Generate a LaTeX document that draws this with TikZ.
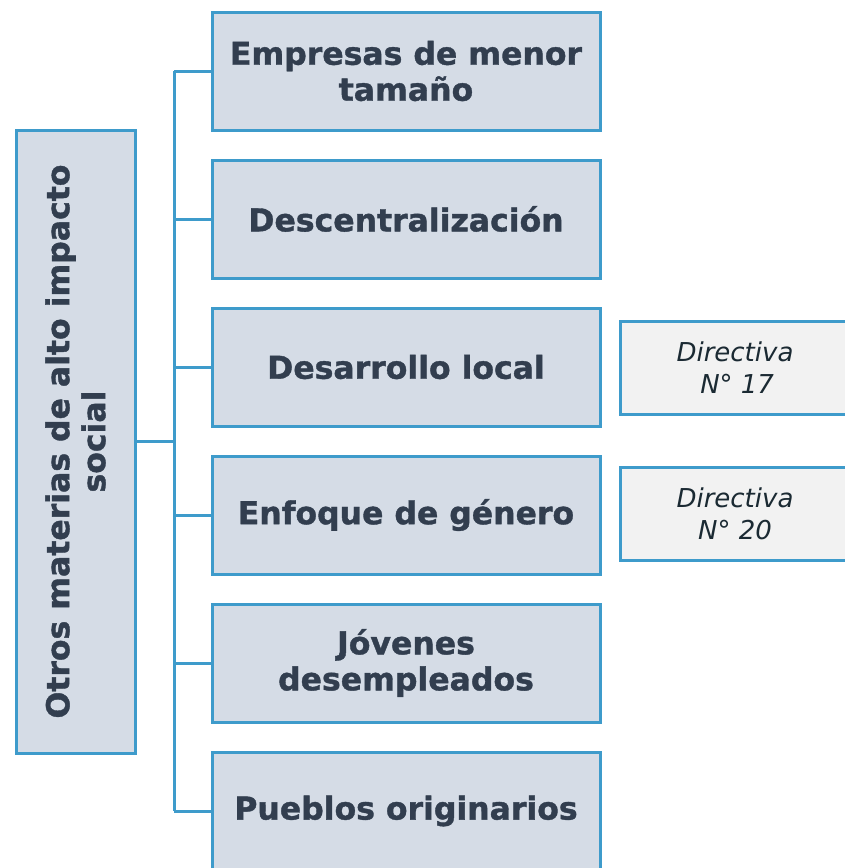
\documentclass[tikz,border=0pt]{standalone}
\usepackage{fontspec}
\setmainfont{DejaVu Sans}[BoldFeatures={FakeBold=1.2}]
\definecolor{boxfill}{HTML}{D5DCE6}
\definecolor{boxline}{HTML}{3E9BCB}
\definecolor{boxtext}{HTML}{323E4F}
\definecolor{dirfill}{HTML}{F2F2F2}
\definecolor{dirtext}{HTML}{1B2A33}
\begin{document}
\begin{tikzpicture}[x=1pt,y=-1pt,
  mainbox/.style={draw=boxline, line width=3pt, fill=boxfill, text=boxtext,
    minimum width=388pt, minimum height=118pt, inner sep=0pt, align=center,
    font=\fontsize{31.5}{36}\selectfont\bfseries},
  dirbox/.style={draw=boxline, line width=3pt, fill=dirfill, text=dirtext,
    minimum width=230pt, minimum height=93pt, inner sep=0pt, align=center,
    font=\fontsize{26}{32}\selectfont\itshape},
  leftbox/.style={draw=boxline, line width=3pt, fill=boxfill, text=boxtext,
    minimum width=623pt, minimum height=119pt, inner sep=0pt, align=center,
    rotate=90, font=\fontsize{31.5}{36}\selectfont\bfseries},
  conn/.style={draw=boxline, line width=3pt}]
\useasboundingbox (0,0) rectangle (844,868);
\fill[white] (0,0) rectangle (844,868);
\node[leftbox] (left) at (75.5,441.5) {Otros materias de alto impacto\\social};
\node[mainbox] (b1) at (406,71) {Empresas de menor\\tamaño};
\node[mainbox] (b2) at (406,219) {Descentralización};
\node[mainbox] (b3) at (406,367) {Desarrollo local};
\node[mainbox] (b4) at (406,515) {Enfoque de género};
\node[mainbox] (b5) at (406,663) {Jóvenes\\desempleados};
\node[mainbox] (b6) at (406,811) {Pueblos originarios};
\node[dirbox] (d1) at (735,367.5) {Directiva\\ \,N° 17};
\node[dirbox] (d2) at (735,513.5) {Directiva\\N° 20};
\coordinate (tt) at (174,71);
\coordinate (tb) at (174,811);
\draw[conn] (tt) -- (tb);
\foreach \b in {b1,b2,b3,b4,b5,b6}{
  \draw[conn] (\b.west) -- (\b.west -| tt);
}
\draw[conn] (left.south) -- (left.south -| tt);
\end{tikzpicture}
\end{document}
